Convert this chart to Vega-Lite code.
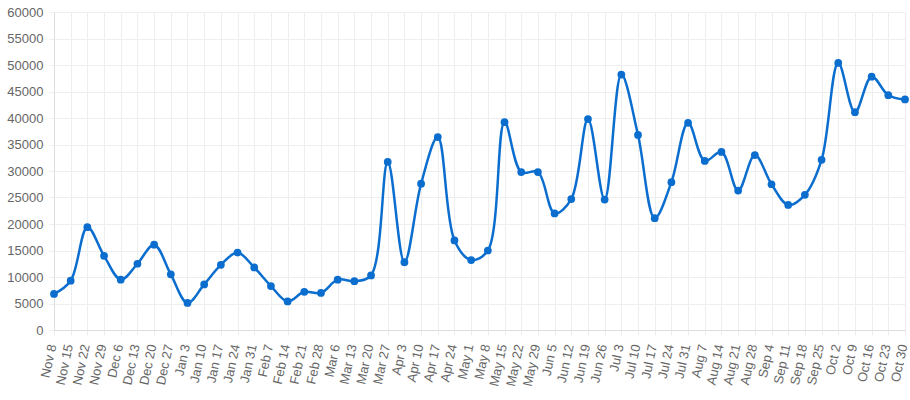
{
  "$schema": "https://vega.github.io/schema/vega-lite/v6.json",
  "width": 851,
  "height": 318,
  "autosize": {"type": "none"},
  "padding": {"left": 54, "top": 12, "right": 5, "bottom": 70},
  "config": {
    "view": {"stroke": null},
    "font": "Liberation Sans",
    "axis": {
      "labelFont": "Liberation Sans",
      "labelFontSize": 13,
      "labelColor": "#666666",
      "gridColor": "#eeeeee",
      "gridWidth": 1,
      "domainColor": "#dddddd",
      "tickColor": "#eeeeee",
      "tickSize": 5,
      "title": null
    }
  },
  "data": {
    "values": [
      {"week": "Nov 8", "value": 6800},
      {"week": "Nov 15", "value": 9300},
      {"week": "Nov 22", "value": 19400},
      {"week": "Nov 29", "value": 14000},
      {"week": "Dec 6", "value": 9500},
      {"week": "Dec 13", "value": 12500},
      {"week": "Dec 20", "value": 16100},
      {"week": "Dec 27", "value": 10500},
      {"week": "Jan 3", "value": 5100},
      {"week": "Jan 10", "value": 8600},
      {"week": "Jan 17", "value": 12300},
      {"week": "Jan 24", "value": 14600},
      {"week": "Jan 31", "value": 11800},
      {"week": "Feb 7", "value": 8300},
      {"week": "Feb 14", "value": 5400},
      {"week": "Feb 21", "value": 7200},
      {"week": "Feb 28", "value": 7000},
      {"week": "Mar 6", "value": 9500},
      {"week": "Mar 13", "value": 9200},
      {"week": "Mar 20", "value": 10300},
      {"week": "Mar 27", "value": 31700},
      {"week": "Apr 3", "value": 12800},
      {"week": "Apr 10", "value": 27600},
      {"week": "Apr 17", "value": 36400},
      {"week": "Apr 24", "value": 16900},
      {"week": "May 1", "value": 13200},
      {"week": "May 8", "value": 15000},
      {"week": "May 15", "value": 39200},
      {"week": "May 22", "value": 29800},
      {"week": "May 29", "value": 29800},
      {"week": "Jun 5", "value": 22000},
      {"week": "Jun 12", "value": 24700},
      {"week": "Jun 19", "value": 39800},
      {"week": "Jun 26", "value": 24600},
      {"week": "Jul 3", "value": 48200},
      {"week": "Jul 10", "value": 36800},
      {"week": "Jul 17", "value": 21100},
      {"week": "Jul 24", "value": 27900},
      {"week": "Jul 31", "value": 39100},
      {"week": "Aug 7", "value": 31900},
      {"week": "Aug 14", "value": 33600},
      {"week": "Aug 21", "value": 26300},
      {"week": "Aug 28", "value": 33000},
      {"week": "Sep 4", "value": 27500},
      {"week": "Sep 11", "value": 23600},
      {"week": "Sep 18", "value": 25500},
      {"week": "Sep 25", "value": 32100},
      {"week": "Oct 2", "value": 50400},
      {"week": "Oct 9", "value": 41100},
      {"week": "Oct 16", "value": 47800},
      {"week": "Oct 23", "value": 44300},
      {"week": "Oct 30", "value": 43500}
    ]
  },
  "encoding": {
    "x": {
      "field": "week",
      "type": "ordinal",
      "sort": null,
      "scale": {"type": "point", "padding": 0},
      "axis": {"labelAngle": -78, "labelPadding": 9, "labelOffset": -2, "grid": true, "domain": true}
    },
    "y": {
      "field": "value",
      "type": "quantitative",
      "scale": {"domain": [0, 60000], "nice": false},
      "axis": {"values": [0, 5000, 10000, 15000, 20000, 25000, 30000, 35000, 40000, 45000, 50000, 55000, 60000], "format": "d", "labelPadding": 6, "grid": true}
    }
  },
  "layer": [
    {"mark": {"type": "line", "interpolate": "catmull-rom", "color": "#0b6ecf", "strokeWidth": 2.5}},
    {"mark": {"type": "circle", "color": "#0b6ecf", "opacity": 1, "size": 60}}
  ]
}
